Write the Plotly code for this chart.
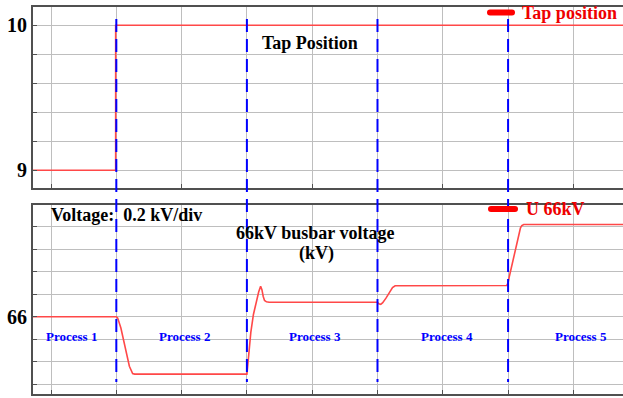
import plotly.graph_objects as go

# ---- data -------------------------------------------------------------
# time axis in grid divisions; process boundaries sit on the grid
tap_time = [-0.28, 0.99, 8.76]
tap_pos = [9, 10, 10]

volt_time = [-0.28, 1.0, 1.02, 1.04, 1.07, 1.2, 1.23, 1.25, 1.28,
             3.0, 3.01, 3.03, 3.06, 3.1, 3.14, 3.18, 3.21, 3.23, 3.25,
             3.27, 3.3, 3.34,
             5.0, 5.02, 5.05, 5.08, 5.13, 5.19, 5.23, 5.27,
             6.98, 7.0, 7.02, 7.17, 7.19, 7.21, 7.24, 8.76]
volt_kv = [66.0, 66.0, 65.99, 65.96, 65.9, 65.56, 65.51, 65.495, 65.49,
           65.49, 65.55, 65.68, 65.86, 66.02, 66.13, 66.22, 66.27, 66.24,
           66.18, 66.145, 66.132, 66.128,
           66.128, 66.115, 66.11, 66.125, 66.165, 66.22, 66.26, 66.275,
           66.278, 66.3, 66.36, 66.74, 66.79, 66.81, 66.82, 66.82]

boundaries = [1, 3, 5, 7]
process_names = ["Process 1", "Process 2", "Process 3", "Process 4", "Process 5"]
process_centers = [0.31, 2.05, 4.04, 6.07, 8.11]
process_label_kv = 65.822

x_grid = [0, 1, 2, 3, 4, 5, 6, 7, 8]
tap_ticks = [9, 9.2, 9.4, 9.6, 9.8, 10]
tap_ticktext = ["9", "", "", "", "", "10"]
volt_ticks = [65.4, 65.6, 65.8, 66.0, 66.2, 66.4, 66.6, 66.8]
volt_ticktext = ["", "", "", "66", "", "", "", ""]

# ---- layout helpers ---------------------------------------------------
W, H = 623, 398
ML, MR, MT, MB = 33, 0, 7, 4
PW, PH = W - ML - MR, H - MT - MB


def px_x(p):
    return (p - ML) / PW


def px_y(p):
    return (H - MB - p) / PH


SERIF = "Liberation Serif, Times New Roman, serif"
RED_LINE = "rgb(255,72,72)"
RED = "rgb(238,0,0)"
BLUE = "rgb(0,0,255)"
GRID = "rgb(190,190,190)"
FRAME = "rgb(80,80,80)"

fig = go.Figure()
fig.add_trace(go.Scatter(x=tap_time, y=tap_pos, mode="lines", line_shape="hv",
                         line=dict(color=RED_LINE, width=1.6),
                         xaxis="x2", yaxis="y2", showlegend=False,
                         hoverinfo="skip"))
fig.add_trace(go.Scatter(x=volt_time, y=volt_kv, mode="lines",
                         line=dict(color=RED_LINE, width=1.6),
                         xaxis="x", yaxis="y", showlegend=False,
                         hoverinfo="skip"))

x_common = dict(range=[-0.276, 8.76], tickvals=x_grid, showticklabels=False,
                showgrid=True, gridcolor=GRID, gridwidth=1.3,
                ticks="inside", ticklen=4, tickcolor=FRAME,
                showline=True, linecolor=FRAME, linewidth=2, mirror=True,
                zeroline=False)
y_common = dict(showgrid=True, gridcolor=GRID, gridwidth=1.3,
                ticks="inside", ticklen=4, tickcolor=FRAME,
                showline=True, linecolor=FRAME, linewidth=2, mirror=False,
                zeroline=False,
                tickfont=dict(family=SERIF, size=20, color="black",
                              weight="bold"))

top_bottom = px_y(188)
bot_top = px_y(205)

# process boundaries: dashed lines running through both panels, drawn top-down
shapes = []
for b in boundaries:
    shapes.append(dict(type="line", xref="x", yref="paper",
                       x0=b, x1=b, y0=px_y(19), y1=px_y(382),
                       line=dict(color=BLUE, width=2, dash="13px,7px"),
                       layer="above"))


def pill(x0p, x1p, yc, hh=3.0):
    """Filled rounded bar used as a legend swatch (pixel inputs)."""
    r = hh
    xa, xb = px_x(x0p), px_x(x1p)
    xr = r / PW
    yt, yb, ym = px_y(yc - hh), px_y(yc + hh), px_y(yc)
    path = (f"M {xa + xr},{yt} L {xb - xr},{yt} Q {xb},{yt} {xb},{ym} "
            f"Q {xb},{yb} {xb - xr},{yb} L {xa + xr},{yb} "
            f"Q {xa},{yb} {xa},{ym} Q {xa},{yt} {xa + xr},{yt} Z")
    return dict(type="path", xref="paper", yref="paper", path=path,
                fillcolor="rgb(255,0,0)", line=dict(width=0), layer="above")


shapes.append(pill(487, 515, 12.5))
shapes.append(pill(488, 518, 209))

annotations = [
    dict(text="<b>Tap Position</b>", x=px_x(310), y=px_y(43), xref="paper",
         yref="paper", showarrow=False, xanchor="center", yanchor="middle",
         font=dict(family=SERIF, size=18, color="black")),
    dict(text="<b>Tap position</b>", x=px_x(520), y=px_y(13), xref="paper",
         yref="paper", showarrow=False, xanchor="left", yanchor="middle",
         font=dict(family=SERIF, size=18, color=RED)),
    dict(text="<b>U 66kV</b>", x=px_x(524), y=px_y(209), xref="paper",
         yref="paper", showarrow=False, xanchor="left", yanchor="middle",
         font=dict(family=SERIF, size=18, color=RED)),
    dict(text="<b>Voltage:\u00a0\u00a00.2 kV/div</b>", x=px_x(49), y=px_y(215),
         xref="paper", yref="paper", showarrow=False, xanchor="left",
         yanchor="middle", font=dict(family=SERIF, size=18, color="black")),
    dict(text="<b>66kV busbar voltage</b>", x=px_x(315), y=px_y(233),
         xref="paper", yref="paper", showarrow=False, xanchor="center",
         yanchor="middle", font=dict(family=SERIF, size=18, color="black")),
    dict(text="<b>(kV)</b>", x=px_x(316), y=px_y(253),
         xref="paper", yref="paper", showarrow=False, xanchor="center",
         yanchor="middle", font=dict(family=SERIF, size=18, color="black")),
]
for name, xc in zip(process_names, process_centers):
    annotations.append(dict(text=f"<b>{name}</b>", x=xc, y=process_label_kv,
                            xref="x", yref="y", showarrow=False,
                            xanchor="center", yanchor="middle",
                            font=dict(family=SERIF, size=13, color=BLUE)))

fig.update_layout(
    width=W, height=H,
    margin=dict(l=ML, r=MR, t=MT, b=MB),
    paper_bgcolor="white", plot_bgcolor="white",
    xaxis=dict(domain=[0, 1], anchor="y", **x_common),
    yaxis=dict(domain=[0, bot_top], anchor="x", range=[65.313, 66.993],
               tickvals=volt_ticks, ticktext=volt_ticktext, **y_common),
    xaxis2=dict(domain=[0, 1], anchor="y2", matches="x", **x_common),
    yaxis2=dict(domain=[top_bottom, 1], anchor="x2", range=[8.877, 10.126],
                tickvals=tap_ticks, ticktext=tap_ticktext, **y_common),
    shapes=shapes,
    annotations=annotations,
    showlegend=False,
)

fig.write_html("out.html")
